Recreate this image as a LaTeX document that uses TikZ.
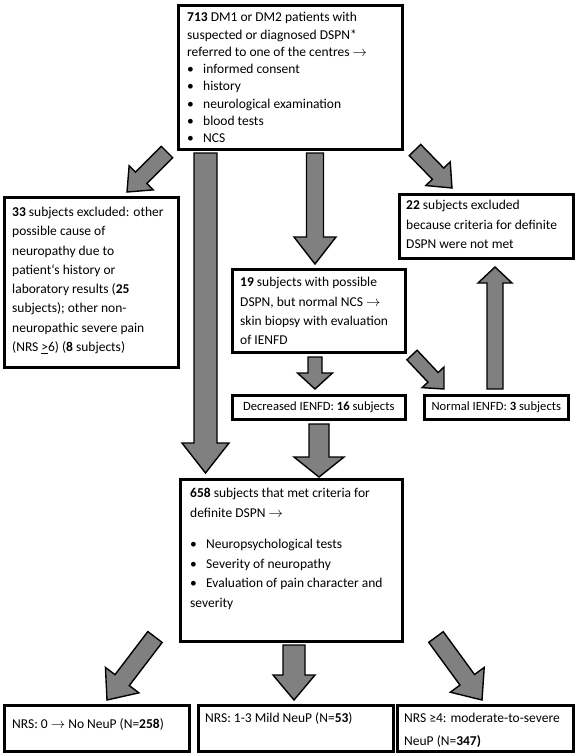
\documentclass[tikz,border=0pt]{standalone}
\usepackage{fontspec}
\setmainfont{Carlito}
\usetikzlibrary{calc}
\definecolor{arrowgray}{RGB}{128,128,128}
\tikzset{
  box/.style={draw=black, line width=2.6pt, inner sep=0pt, anchor=north west, fill=white},
  txt/.style={anchor=north west, inner sep=0pt, align=left, font=\fontsize{13.5}{19.3}\selectfont},
  smalltxt/.style={inner sep=0pt, font=\fontsize{12.6}{18}\selectfont},
  blk/.style={fill=arrowgray, draw=black, line width=1.4pt, line join=miter},
}
\newcommand\boxat[5]{\node[box, minimum width=#4pt, minimum height=#5pt] (#1) at (#2,#3) {};}
\newcommand\blockarrow[5]{%
  \filldraw[blk] ($(#1)!#3pt!90:(#2)$) -- ($(#2)!#5pt!(#1)!#3pt!-90:(#1)$)
   -- ($(#2)!#5pt!(#1)!#4pt!-90:(#1)$) -- (#2)
   -- ($(#2)!#5pt!(#1)!#4pt!90:(#1)$) -- ($(#2)!#5pt!(#1)!#3pt!90:(#1)$)
   -- ($(#1)!#3pt!-90:(#2)$) -- cycle;}
\newcommand\bul{\makebox[16pt][l]{•}}
\begin{document}
\begin{tikzpicture}[x=1pt,y=-1pt]
\fill[white] (0,0) rectangle (575,753);
\useasboundingbox (0,0) rectangle (575,753);
% boxes
\boxat{top}{177}{4}{224}{144}
\boxat{left}{3}{196}{174}{170}
\boxat{excl}{398}{193}{174}{64}
\boxat{poss}{231}{268}{173}{83}
\boxat{dec}{231}{394}{173}{24}
\boxat{nor}{423}{394}{144}{24}
\boxat{met}{179}{478}{222}{162}
\boxat{none}{3}{704}{185}{46}
\boxat{mild}{197}{704}{195}{46}
\boxat{sev}{396}{704}{176}{46}
% texts
\node[txt, font=\fontsize{13.5}{17.3}\selectfont] (ttop) at (187,9.4) {\strut\textbf{713} DM1 or DM2 patients with\\
suspected or diagnosed DSPN*\\
referred to one of the centres $\rightarrow$\\
\bul informed consent\\
\bul history\\
\bul neurological examination\\
\bul blood tests\\
\bul NCS};
\node[txt] (tleft) at (12,202.7) {\strut\textbf{33} subjects excluded: other\\
possible cause of\\
neuropathy due to\\
patient‘s history or\\
laboratory results (\textbf{25}\\
subjects); other non-\\
neuropathic severe pain\\
(NRS \underline{>}6) (\textbf{8} subjects)};
\node[txt] (texcl) at (406,196) {\strut\textbf{22} subjects excluded\\
because criteria for definite\\
DSPN were not met};
\node[txt] (tposs) at (240,273) {\strut\textbf{19} subjects with possible\\
DSPN, but normal NCS $\rightarrow$\\
skin biopsy with evaluation\\
of IENFD};
\node[smalltxt] (tdec) at (dec.center) {Decreased IENFD: \textbf{16} subjects};
\node[smalltxt] (tnor) at (nor.center) {Normal IENFD: \textbf{3} subjects};
\node[txt, font=\fontsize{13.5}{19.8}\selectfont] (tmet) at (190,483.6) {\strut\textbf{658} subjects that met criteria for\\
definite DSPN $\rightarrow$\\[11pt]
\bul Neuropsychological tests\\
\bul Severity of neuropathy\\
\bul Evaluation of pain character and\\
severity};
\node[txt] (tnone) at (12,715) {\strut NRS: 0 $\rightarrow$ No NeuP (N=\textbf{258})};
\node[txt] (tmild) at (205,709) {\strut NRS: 1-3 Mild NeuP (N=\textbf{53})};
\node[txt] (tsev) at (404,709) {\strut NRS ≥4: moderate-to-severe\\[3.5pt]
NeuP (N=\textbf{347)}};
% arrow end points
\coordinate (a1s) at (167,152); \coordinate (a1e) at (127,192);
\coordinate (a2s) at (205.5,153); \coordinate (a2e) at (205.5,473);
\coordinate (a3s) at (315,153); \coordinate (a3e) at (315,264);
\coordinate (a4s) at (415,150); \coordinate (a4e) at (452,188);
\coordinate (a5s) at (315,357); \coordinate (a5e) at (315,389);
\coordinate (a6s) at (412,355); \coordinate (a6e) at (444,389);
\coordinate (a7s) at (319,424); \coordinate (a7e) at (319,477);
\coordinate (a8s) at (495,389); \coordinate (a8e) at (495,267);
\coordinate (a9s) at (155,637); \coordinate (a9e) at (107,700);
\coordinate (a10s) at (294,645); \coordinate (a10e) at (294,700);
\coordinate (a11s) at (436,637); \coordinate (a11e) at (482,700);
% arrows
\blockarrow{a1s}{a1e}{8}{17}{20}
\blockarrow{a2s}{a2e}{11.5}{23.5}{30}
\blockarrow{a3s}{a3e}{8.5}{21}{27}
\blockarrow{a4s}{a4e}{8}{17}{20}
\blockarrow{a5s}{a5e}{7}{17.5}{16}
\blockarrow{a6s}{a6e}{7}{15}{16}
\blockarrow{a7s}{a7e}{10}{25}{20}
\blockarrow{a8s}{a8e}{8}{17}{16}
\blockarrow{a9s}{a9e}{9}{21}{25}
\blockarrow{a10s}{a10e}{11}{21}{25}
\blockarrow{a11s}{a11e}{9}{21}{25}
\end{tikzpicture}
\end{document}
